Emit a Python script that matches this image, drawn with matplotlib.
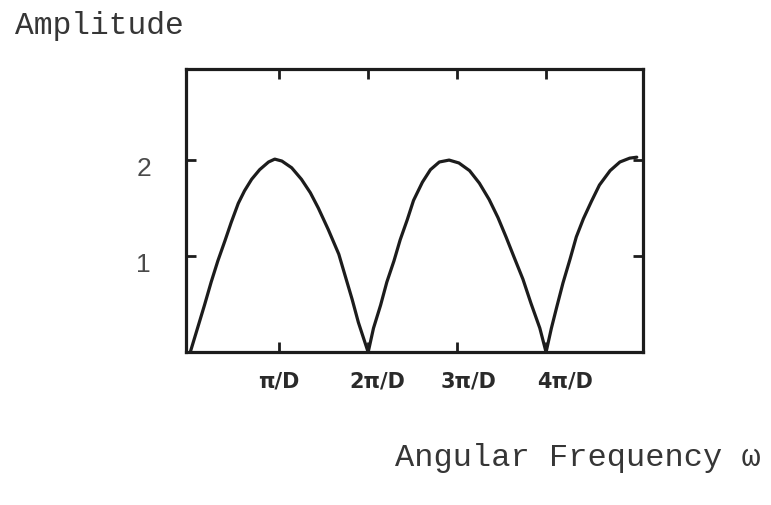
import matplotlib
matplotlib.use("Agg")
import matplotlib.pyplot as plt
import matplotlib.transforms as mtransforms

# amplitude response, omega in units of pi/D
omega = [0.0, 0.085, 0.16, 0.235, 0.31, 0.39, 0.46, 0.54, 0.61, 0.69, 0.78, 0.88, 0.95,
         1.03, 1.14, 1.25, 1.35, 1.44, 1.55, 1.67, 1.74, 1.82, 1.89, 2.0,
         2.06, 2.14, 2.21, 2.29, 2.36, 2.44, 2.51, 2.61, 2.70, 2.80, 2.91,
         3.02, 3.14, 3.25, 3.36, 3.46, 3.55, 3.64, 3.74, 3.83, 3.93, 4.0,
         4.06, 4.12, 4.19, 4.27, 4.34, 4.42, 4.51, 4.60, 4.72, 4.83, 4.94, 5.02]
amplitude = [0.0, 0.26, 0.49, 0.73, 0.95, 1.16, 1.35, 1.55, 1.68, 1.80, 1.90, 1.98, 2.01,
             1.99, 1.92, 1.80, 1.66, 1.50, 1.28, 1.02, 0.80, 0.55, 0.31, 0.0,
             0.25, 0.49, 0.73, 0.95, 1.17, 1.38, 1.58, 1.77, 1.90, 1.98, 2.00,
             1.97, 1.89, 1.76, 1.59, 1.40, 1.20, 0.99, 0.76, 0.51, 0.25, 0.0,
             0.25, 0.47, 0.72, 0.97, 1.20, 1.39, 1.57, 1.74, 1.89, 1.98, 2.02, 2.03]

x_ticks = [1, 2, 3, 4]
x_labels = ["π/D", "2π/D", "3π/D", "4π/D"]
y_ticks = [1, 2]
y_labels = ["1", "2"]

ink = "#1c1c1c"
mono = ["Liberation Mono", "DejaVu Sans Mono"]

fig = plt.figure(figsize=(7.71, 5.06), dpi=100)
ax = fig.add_axes([0.241, 0.302, 0.593, 0.560])

ax.plot(omega, amplitude, color=ink, lw=2.3, solid_joinstyle="round",
        solid_capstyle="round")

ax.set_xlim(-0.05, 5.09)
ax.set_ylim(0, 2.95)

for s in ax.spines.values():
    s.set_linewidth(2.3)
    s.set_color(ink)

ax.set_xticks(x_ticks)
ax.set_xticklabels(x_labels, fontsize=15, fontweight="bold", color="#2a2a2a")
ax.set_yticks(y_ticks)
ax.set_yticklabels(y_labels, family="Liberation Sans", fontsize=19,
                   color="#4a4a4a")
ax.tick_params(axis="x", direction="in", length=7, width=2, color=ink,
               top=True, pad=13)
ax.tick_params(axis="y", direction="in", length=7, width=2, color=ink,
               right=True, pad=25)

# the hand-lettered labels drift to the right of their ticks
shifts = [0, 9, 11, 19]
for lab, dx in zip(ax.get_xticklabels(), shifts):
    lab.set_transform(lab.get_transform() +
                      mtransforms.ScaledTranslation(dx / 100, 0, fig.dpi_scale_trans))
for lab in ax.get_yticklabels():
    lab.set_transform(lab.get_transform() +
                      mtransforms.ScaledTranslation(0, -0.05, fig.dpi_scale_trans))

fig.text(15 / 771, 0.949, "Amplitude", family=mono, fontsize=22.5,
         color="#363636", va="center", ha="left")
fig.text(395 / 771, 0.094, "Angular Frequency ω", family=mono, fontsize=23,
         color="#363636", va="center", ha="left")

fig.savefig("out.png", dpi=100, facecolor="white")
